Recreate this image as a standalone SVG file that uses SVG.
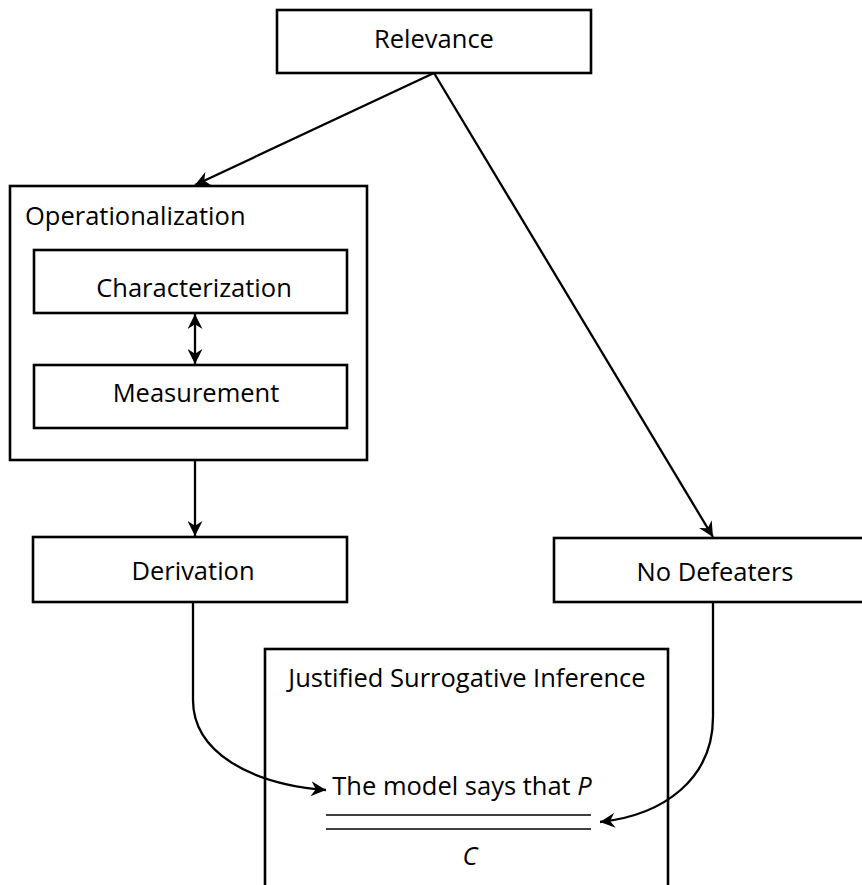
<svg xmlns="http://www.w3.org/2000/svg" width="862" height="885" viewBox="0 0 862 885">
<style>
.box{fill:#fff;stroke:#000;stroke-width:2.6}
.t{font-family:"Open Sans","Liberation Sans",sans-serif;font-size:25.5px;fill:#000}
.c{text-anchor:middle}
.con{fill:none;stroke:#000;stroke-width:2.3}
.rule{stroke:#000;stroke-width:1.4}
</style>
<defs>
<marker id="ah" viewBox="0 0 14 14" refX="14" refY="7" markerWidth="15" markerHeight="15" markerUnits="userSpaceOnUse" orient="auto-start-reverse">
<path d="M0,0 L14,7 L0,14 L4.5,7 z" fill="#000"/>
</marker>
</defs>
<rect width="862" height="885" fill="#fff"/>
<g id="relevance">
<rect class="box" x="277" y="10" width="314" height="63"/>
<text class="t c" x="434" y="48">Relevance</text>
</g>
<g id="operationalization">
<rect class="box" x="10" y="186" width="357" height="274"/>
<text class="t" x="25" y="225">Operationalization</text>
</g>
<g id="characterization">
<rect class="box" x="34" y="250" width="313" height="63"/>
<text class="t c" x="194" y="297">Characterization</text>
</g>
<g id="measurement">
<rect class="box" x="34" y="365" width="313" height="63"/>
<text class="t c" x="196" y="402">Measurement</text>
</g>
<g id="derivation">
<rect class="box" x="33" y="537" width="314" height="65"/>
<text class="t c" x="193" y="580">Derivation</text>
</g>
<g id="nodefeaters">
<rect class="box" x="554" y="538" width="320" height="64"/>
<text class="t c" x="715" y="581">No Defeaters</text>
</g>
<g id="jsi">
<rect class="box" x="265" y="649" width="403" height="250"/>
<text class="t c" x="467" y="687">Justified Surrogative Inference</text>
<text class="t c" x="462" y="795">The model says that <tspan font-style="italic">P</tspan></text>
<line class="rule" x1="326" y1="815" x2="591" y2="815"/>
<line class="rule" x1="326" y1="829" x2="591" y2="829"/>
<text class="t c" x="470" y="865" font-style="italic">C</text>
</g>
<g id="connectors">
<line class="con" x1="434" y1="73" x2="195" y2="185" marker-end="url(#ah)"/>
<line class="con" x1="434" y1="73" x2="713" y2="537" marker-end="url(#ah)"/>
<line class="con" x1="195" y1="314" x2="195" y2="364" marker-start="url(#ah)" marker-end="url(#ah)"/>
<line class="con" x1="195" y1="460" x2="195" y2="536" marker-end="url(#ah)"/>
<path class="con" d="M193,602 L193,700 C193,752 250,784 326,790" marker-end="url(#ah)"/>
<path class="con" d="M713,602 L713,717 C713,778 665,815 600,822" marker-end="url(#ah)"/>
</g>
</svg>
